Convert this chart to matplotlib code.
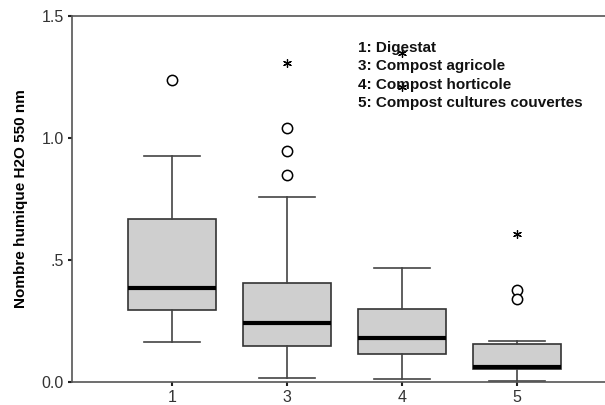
import matplotlib
matplotlib.use("Agg")
import matplotlib.pyplot as plt

plt.rcParams['font.family'] = ['Liberation Sans', 'DejaVu Sans']

groups = ["1", "3", "4", "5"]
whislo = [0.164, 0.016, 0.012, 0.004]
q1 = [0.295, 0.148, 0.115, 0.055]
med = [0.385, 0.242, 0.180, 0.062]
q3 = [0.668, 0.405, 0.299, 0.156]
whishi = [0.926, 0.758, 0.467, 0.169]
circle_out = [[1.238], [1.040, 0.947, 0.848], [], [0.377, 0.340]]
star_out = [[], [1.307], [1.350, 1.210], [0.607]]
legend_lines = ["1: Digestat", "3: Compost agricole", "4: Compost horticole",
                "5: Compost cultures couvertes"]

fig = plt.figure(figsize=(6.05, 4.05), dpi=100)
ax = fig.add_axes([72/605, 1 - 382/405, 1 - 72/605 + 0.01, (382 - 16)/405])

stats = []
for i in range(len(groups)):
    stats.append(dict(whislo=whislo[i], q1=q1[i], med=med[i], q3=q3[i],
                      whishi=whishi[i], fliers=[]))
pos = list(range(1, len(groups) + 1))
ax.bxp(stats, positions=pos, widths=0.77, patch_artist=True, showfliers=False,
       boxprops=dict(facecolor='#cfcfcf', edgecolor='#333333', linewidth=1.2),
       medianprops=dict(color='black', linewidth=3),
       whiskerprops=dict(color='#444444', linewidth=1.2),
       capprops=dict(color='#444444', linewidth=1.2),
       capwidths=0.49)

for i, p in enumerate(pos):
    if circle_out[i]:
        ax.scatter([p] * len(circle_out[i]), circle_out[i], s=55, facecolors='white',
                   edgecolors='black', linewidths=1.1, zorder=3)
    if star_out[i]:
        ax.scatter([p] * len(star_out[i]), star_out[i], s=32, marker=(6, 2, 0),
                   color='black', linewidths=0.9, zorder=3)

ax.set_xlim(0.13, 4.77 + 0.05)
ax.set_ylim(0, 1.5)
ax.set_yticks([0, 0.5, 1.0, 1.5])
ax.set_yticklabels(["0.0", ".5", "1.0", "1.5"])
ax.set_xticks(pos)
ax.set_xticklabels(groups)
ax.tick_params(axis='both', length=3, width=1.5, color='#222222', labelsize=11.5,
               labelcolor='#333333', pad=3)
for s in ['left', 'bottom', 'top']:
    ax.spines[s].set_color('#555555')
    ax.spines[s].set_linewidth(1.2)
ax.spines['right'].set_visible(False)

ax.set_ylabel("Nombre humique H2O 550 nm", fontsize=11, fontweight='bold', labelpad=10)

fig.text(358/605, 1 - 75.5/405, "\n".join(legend_lines),
         fontsize=11, fontweight='bold', va='center', ha='left', linespacing=1.4,
         color='#111111')

fig.savefig("out.png", dpi=100)
